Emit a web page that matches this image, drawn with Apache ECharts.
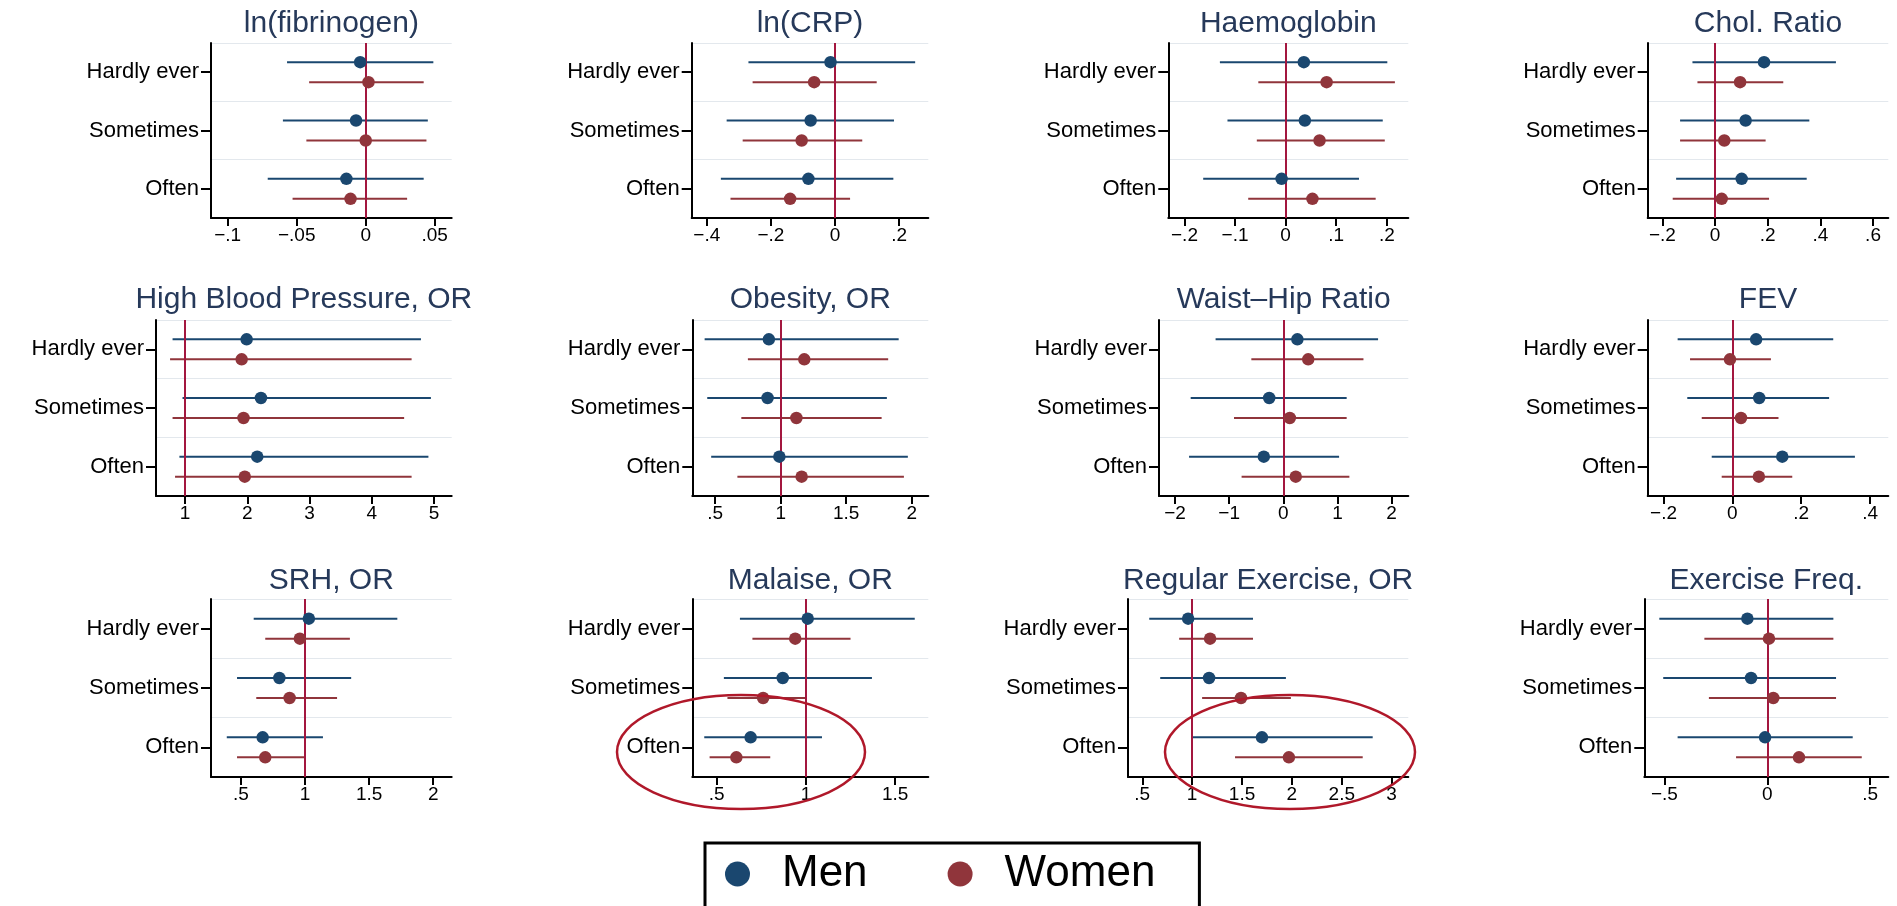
<!DOCTYPE html>
<html>
<head>
<meta charset="utf-8">
<script src="https://cdn.jsdelivr.net/npm/echarts@6/dist/echarts.min.js"></script>
<style>
html,body{margin:0;padding:0;background:#fff;}
#chart{width:1897px;height:906px;}
</style>
</head>
<body>
<div id="chart"></div>
<script>
// ---------------- DATA ----------------
const categories = ['Hardly ever', 'Sometimes', 'Often'];
const seriesNames = ['Men', 'Women'];
const panelTitles = ['ln(fibrinogen)', 'ln(CRP)', 'Haemoglobin', 'Chol. Ratio',
  'High Blood Pressure, OR', 'Obesity, OR', 'Waist\u2013Hip Ratio', 'FEV',
  'SRH, OR', 'Malaise, OR', 'Regular Exercise, OR', 'Exercise Freq.'];

// point estimates per panel, per category (Hardly ever, Sometimes, Often)
const menEst = [
  [-0.004, -0.007, -0.014], [-0.014, -0.076, -0.083], [0.036, 0.038, -0.008], [0.186, 0.116, 0.101],
  [1.99, 2.22, 2.16], [0.91, 0.90, 0.99], [0.26, -0.26, -0.36], [0.069, 0.078, 0.145],
  [1.03, 0.80, 0.67], [1.01, 0.87, 0.69], [0.96, 1.17, 1.70], [-0.097, -0.079, -0.011]
];
const menLow = [
  [-0.057, -0.060, -0.071], [-0.270, -0.338, -0.356], [-0.130, -0.115, -0.163], [-0.086, -0.133, -0.148],
  [0.80, 0.96, 0.91], [0.42, 0.44, 0.47], [-1.25, -1.71, -1.74], [-0.159, -0.131, -0.060],
  [0.60, 0.47, 0.39], [0.63, 0.54, 0.43], [0.57, 0.68, 1.00], [-0.525, -0.506, -0.436]
];
const menHigh = [
  [0.049, 0.045, 0.042], [0.250, 0.184, 0.182], [0.201, 0.192, 0.145], [0.459, 0.358, 0.348],
  [4.79, 4.95, 4.91], [1.90, 1.81, 1.97], [1.75, 1.17, 1.03], [0.293, 0.281, 0.356],
  [1.72, 1.36, 1.14], [1.61, 1.37, 1.09], [1.61, 1.94, 2.81], [0.321, 0.334, 0.415]
];
const womenEst = [
  [0.002, 0.000, -0.011], [-0.065, -0.104, -0.140], [0.081, 0.067, 0.053], [0.095, 0.035, 0.025],
  [1.91, 1.94, 1.96], [1.18, 1.12, 1.16], [0.46, 0.12, 0.23], [-0.007, 0.025, 0.077],
  [0.96, 0.88, 0.69], [0.94, 0.76, 0.61], [1.18, 1.49, 1.97], [0.008, 0.029, 0.154]
];
const womenLow = [
  [-0.041, -0.043, -0.053], [-0.257, -0.288, -0.326], [-0.054, -0.057, -0.074], [-0.067, -0.133, -0.161],
  [0.76, 0.80, 0.84], [0.75, 0.70, 0.67], [-0.59, -0.91, -0.77], [-0.123, -0.089, -0.031],
  [0.69, 0.62, 0.47], [0.70, 0.56, 0.46], [0.87, 1.10, 1.43], [-0.306, -0.284, -0.152]
];
const womenHigh = [
  [0.042, 0.044, 0.030], [0.130, 0.085, 0.047], [0.216, 0.196, 0.178], [0.259, 0.192, 0.205],
  [4.64, 4.52, 4.64], [1.82, 1.77, 1.94], [1.48, 1.17, 1.22], [0.112, 0.134, 0.174],
  [1.35, 1.25, 1.00], [1.25, 1.00, 0.80], [1.61, 1.99, 2.71], [0.321, 0.334, 0.459]
];

// reference line (0 for differences, 1 for odds ratios)
const refValues = [0, 0, 0, 0, 1, 1, 0, 0, 1, 1, 1, 0];

// x-axis domains and ticks
const axisMin = [-0.1121, -0.447, -0.232, -0.256, 0.534, 0.326, -2.295, -0.246, 0.267, 0.363, 0.357, -0.598];
const axisMax = [0.0623, 0.291, 0.2425, 0.658, 5.284, 2.126, 2.308, 0.453, 2.144, 1.686, 3.167, 0.588];
const xTicks = [
  [-0.1, -0.05, 0, 0.05], [-0.4, -0.2, 0, 0.2], [-0.2, -0.1, 0, 0.1, 0.2], [-0.2, 0, 0.2, 0.4, 0.6],
  [1, 2, 3, 4, 5], [0.5, 1, 1.5, 2], [-2, -1, 0, 1, 2], [-0.2, 0, 0.2, 0.4],
  [0.5, 1, 1.5, 2], [0.5, 1, 1.5], [0.5, 1, 1.5, 2, 2.5, 3], [-0.5, 0, 0.5]
];
const xTickLabels = [
  ['\u2212.1', '\u2212.05', '0', '.05'], ['\u2212.4', '\u2212.2', '0', '.2'],
  ['\u2212.2', '\u2212.1', '0', '.1', '.2'], ['\u2212.2', '0', '.2', '.4', '.6'],
  ['1', '2', '3', '4', '5'], ['.5', '1', '1.5', '2'], ['\u22122', '\u22121', '0', '1', '2'],
  ['\u2212.2', '0', '.2', '.4'], ['.5', '1', '1.5', '2'], ['.5', '1', '1.5'],
  ['.5', '1', '1.5', '2', '2.5', '3'], ['\u2212.5', '0', '.5']
];

// ---------------- LAYOUT / STYLE ----------------
const gridLeft = [211, 691.7, 1168.3, 1647.7, 156, 692.3, 1159, 1647.7, 211, 692.3, 1128, 1644.3];
const colRight = [451.7, 928.3, 1408.3, 1888.3];
const rowTop = [43, 320, 599];
const rowBottom = [218, 496, 777];
const titleY = [24, 300, 581];
const FONT = 'Liberation Sans, Arial, sans-serif';
const menColor = '#1a476f';
const womenColor = '#90353b';
const refColor = '#a3173f';
const offsets = [-10, 10];

function ciRenderer(offset, color) {
  return function (params, api) {
    const cat = api.value(0);
    const p1 = api.coord([api.value(1), cat]);
    const p2 = api.coord([api.value(2), cat]);
    return {
      type: 'line',
      shape: { x1: p1[0], y1: p1[1] + offset, x2: p2[0], y2: p2[1] + offset },
      style: { stroke: color, lineWidth: 2 }
    };
  };
}

const grids = [], xAxes = [], yAxes = [], series = [], titles = [];
for (let i = 0; i < 12; i++) {
  const r = Math.floor(i / 4), c = i % 4;
  const left = gridLeft[i], right = colRight[c];
  grids.push({ left: left, top: rowTop[r], width: right - left, height: rowBottom[r] - rowTop[r], containLabel: false });
  titles.push({
    text: panelTitles[i], left: (left + right) / 2, top: titleY[r],
    textAlign: 'center', textVerticalAlign: 'middle', padding: 0,
    textStyle: { fontSize: 30, fontWeight: 'normal', color: '#26395a', fontFamily: FONT }
  });
  const ticks = xTicks[i], labels = xTickLabels[i];
  xAxes.push({
    type: 'value', gridIndex: i, min: axisMin[i], max: axisMax[i],
    axisLine: { show: true, onZero: false, lineStyle: { color: '#000', width: 2 } },
    axisTick: { show: true, customValues: ticks, length: 8, lineStyle: { color: '#000', width: 2 } },
    axisLabel: {
      customValues: ticks, fontSize: 19, color: '#000', fontFamily: FONT, margin: 8,
      formatter: function (v) {
        const k = ticks.findIndex(t => Math.abs(t - v) < 1e-9);
        return k >= 0 ? labels[k] : '';
      }
    },
    splitLine: { show: false }
  });
  yAxes.push({
    type: 'category', gridIndex: i, data: categories, inverse: true, boundaryGap: true,
    axisLine: { show: true, onZero: false, lineStyle: { color: '#000', width: 2 } },
    axisTick: { show: true, alignWithLabel: true, length: 10, lineStyle: { color: '#000', width: 2 } },
    axisLabel: { interval: 0, fontSize: 22, color: '#000', fontFamily: FONT, margin: 12 },
    splitLine: { show: true, interval: 0, lineStyle: { color: '#e3e8ed', width: 1 } }
  });

  const est = [menEst[i], womenEst[i]];
  const low = [menLow[i], womenLow[i]];
  const high = [menHigh[i], womenHigh[i]];
  const colors = [menColor, womenColor];
  for (let s = 0; s < 2; s++) {
    const ci = {
      type: 'custom', name: seriesNames[s], xAxisIndex: i, yAxisIndex: i, z: 2,
      itemStyle: { color: colors[s] },
      encode: { x: [1, 2], y: 0 },
      data: categories.map((cName, k) => [k, low[s][k], high[s][k]]),
      renderItem: ciRenderer(offsets[s], colors[s]),
      silent: true
    };
    if (s === 0) {
      ci.markLine = {
        silent: true, symbol: ['none', 'none'], label: { show: false },
        lineStyle: { color: refColor, width: 2, type: 'solid' },
        emphasis: { disabled: true },
        data: [{ xAxis: refValues[i] }]
      };
    }
    series.push(ci);
  }
  for (let s = 0; s < 2; s++) {
    series.push({
      type: 'scatter', name: seriesNames[s], xAxisIndex: i, yAxisIndex: i, z: 6,
      symbol: 'circle', symbolSize: 12.5, symbolOffset: [0, offsets[s]],
      itemStyle: { color: colors[s], opacity: 1 },
      data: categories.map((cName, k) => [est[s][k], cName]),
      silent: true
    });
  }
}

const chart = echarts.init(document.getElementById('chart'), null, { renderer: 'canvas', width: 1897, height: 906 });
chart.setOption({
  backgroundColor: '#ffffff',
  animation: false,
  title: titles,
  grid: grids,
  xAxis: xAxes,
  yAxis: yAxes,
  series: series,
  legend: {
    data: seriesNames, icon: 'circle', left: 705, top: 843, orient: 'horizontal',
    itemWidth: 25, itemHeight: 25, itemGap: 80,
    padding: [9, 44, 60, 20],
    borderColor: '#000', borderWidth: 3, borderRadius: 0, backgroundColor: '#fff',
    selectedMode: false,
    textStyle: { fontSize: 44, fontFamily: FONT, color: '#000', lineHeight: 44, padding: [0, 0, 0, 27] }
  },
  graphic: [
    { type: 'ellipse', shape: { cx: 741, cy: 752, rx: 124, ry: 57 }, style: { fill: 'none', stroke: '#b0182a', lineWidth: 2.5 }, z: 100, silent: true },
    { type: 'ellipse', shape: { cx: 1290, cy: 752, rx: 125, ry: 57 }, style: { fill: 'none', stroke: '#b0182a', lineWidth: 2.5 }, z: 100, silent: true }
  ]
});
</script>
</body>
</html>
